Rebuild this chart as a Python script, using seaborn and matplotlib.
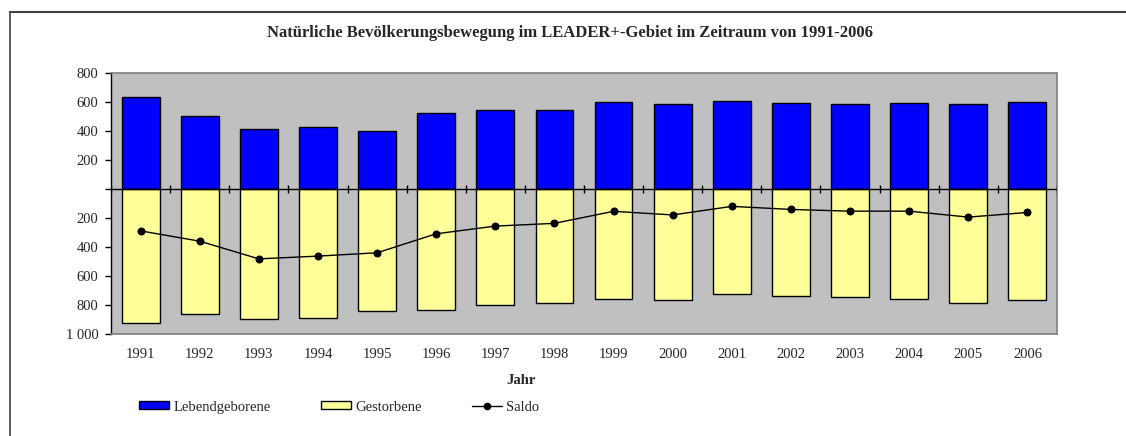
import numpy as np
import pandas as pd
import matplotlib
matplotlib.use("Agg")
import matplotlib.pyplot as plt
from matplotlib.lines import Line2D
from matplotlib.patches import Patch
import seaborn as sns

# Daten
jahre = [str(j) for j in range(1991, 2007)]
lebendgeborene = [635, 503, 417, 429, 401, 526, 544, 544, 602, 588, 606, 593, 586, 593, 586, 600]
gestorbene = [924, 865, 899, 892, 844, 837, 803, 789, 757, 768, 727, 736, 743, 757, 784, 768]
saldo = [-289, -360, -482, -463, -440, -309, -256, -237, -154, -179, -120, -141, -153, -153, -194, -162]

y_ticks = [-1000, -800, -600, -400, -200, 0, 200, 400, 600, 800]
y_labels = ["1 000", "800", "600", "400", "200", "", "200", "400", "600", "800"]

df = pd.DataFrame({"Jahr": jahre, "Lebendgeborene": lebendgeborene,
                   "Gestorbene": [-g for g in gestorbene], "Saldo": saldo})

sns.set_style("white")
plt.rcParams["font.family"] = ["Liberation Serif", "DejaVu Serif"]

fig, ax = plt.subplots(figsize=(11.26, 4.36), dpi=100)
fig.subplots_adjust(left=0.0986, right=0.9387, top=0.8326, bottom=0.234)

ax.set_facecolor("#C0C0C0")

sns.barplot(data=df, x="Jahr", y="Lebendgeborene", color="#0000FF", saturation=1,
            edgecolor="black", linewidth=1, width=0.64, ax=ax)
sns.barplot(data=df, x="Jahr", y="Gestorbene", color="#FFFF99", saturation=1,
            edgecolor="black", linewidth=1, width=0.64, ax=ax)
sns.pointplot(data=df, x="Jahr", y="Saldo", color="black", markers="o",
              linewidth=1, markersize=5, ax=ax)

ax.set_ylim(-1000, 800)
ax.set_xlim(-0.5, len(jahre) - 0.5)
ax.set_yticks(y_ticks)
ax.set_yticklabels(y_labels, fontsize=10.5)
ax.tick_params(axis="y", direction="out", length=4, width=1, color="black", left=True, pad=5)
ax.tick_params(axis="x", length=0, pad=10, labelsize=10.5)
ax.set_xlabel("")
ax.set_ylabel("")

# Nulllinie mit Teilstrichen zwischen den Kategorien
ax.axhline(0, color="black", lw=1, zorder=3)
grenzen = np.arange(len(jahre) + 1) - 0.5
ax.vlines(grenzen, -28, 28, color="black", lw=1, zorder=3)

for side in ["top", "right", "bottom"]:
    ax.spines[side].set_visible(True)
    ax.spines[side].set_color("#808080")
    ax.spines[side].set_linewidth(1.2)
ax.spines["left"].set_color("black")
ax.spines["left"].set_linewidth(1)

fig.text(0.506, 0.924, "Natürliche Bevölkerungsbewegung im LEADER+-Gebiet im Zeitraum von 1991-2006",
         ha="center", va="center", fontsize=12, fontweight="bold")
fig.text(521 / 1126, 1 - 380 / 436, "Jahr", ha="center", va="center", fontsize=10.5, fontweight="bold")

handles = [Patch(facecolor="#0000FF", edgecolor="black", lw=1),
           Patch(facecolor="#FFFF99", edgecolor="black", lw=1),
           Line2D([], [], color="black", lw=1, marker="o", markersize=4.5)]
fig.legend(handles, ["Lebendgeborene", "Gestorbene", "Saldo"], ncol=3, frameon=False,
           loc="center left", bbox_to_anchor=(0.112, 1 - 407 / 436), fontsize=10.5,
           handlelength=2.05, handleheight=0.48, handletextpad=0.3, columnspacing=3.45)

# Rahmen des Diagrammbereichs
fig.add_artist(Line2D([10 / 1126, 1], [1 - 12 / 436, 1 - 12 / 436], color="#404040", lw=1.5))
fig.add_artist(Line2D([10 / 1126, 10 / 1126], [0, 1 - 12 / 436], color="#404040", lw=1.2))

fig.savefig("out.png", dpi=100)
